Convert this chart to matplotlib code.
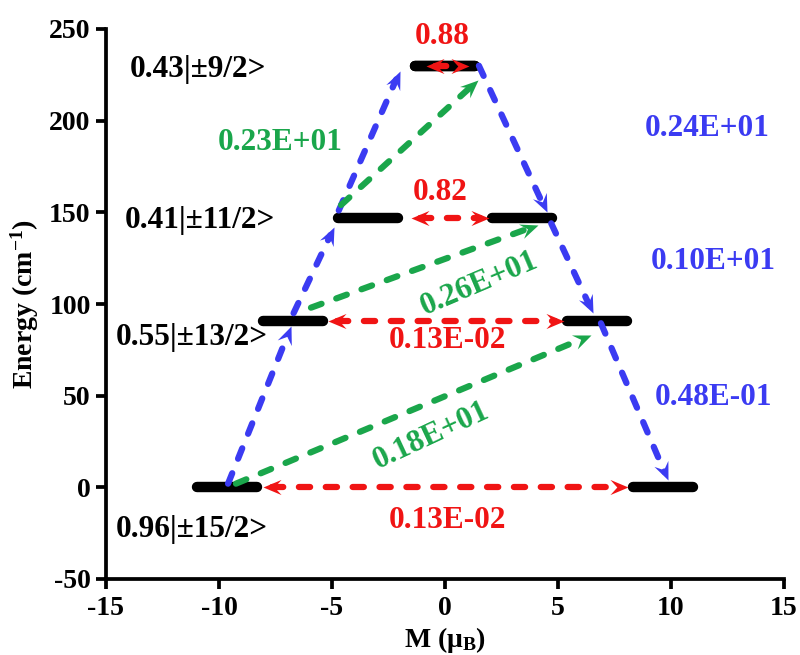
import matplotlib

matplotlib.use("Agg")
import matplotlib.pyplot as plt
import numpy as np
from matplotlib.markers import MarkerStyle
from matplotlib.path import Path
from matplotlib.transforms import Affine2D

plt.rcParams["font.family"] = ["Liberation Serif", "DejaVu Serif"]
plt.rcParams["font.weight"] = "bold"
plt.rcParams["axes.unicode_minus"] = False
plt.rcParams["mathtext.fontset"] = "custom"
plt.rcParams["mathtext.rm"] = "Liberation Serif:bold"
plt.rcParams["mathtext.it"] = "Liberation Serif:bold:italic"
plt.rcParams["mathtext.bf"] = "Liberation Serif:bold"

BLUE = "#3b3bf2"
GREEN = "#1aa64b"
RED = "#f01414"

# Kramers doublets: energy (cm-1) and |M| of the bar centres
level_energy = [0.0, 91.0, 147.0, 230.0]
level_m = [9.65, 6.73, 3.4, 0.0]
level_half = 1.33
level_labels = ["0.96|±15/2>", "0.55|±13/2>", "0.41|±11/2>", "0.43|±9/2>"]

# transitions: (x0, y0, x1, y1), arrow at (x1, y1)
blue_paths = [
    (-9.6, 2, -6.8, 88),
    (-6.7, 95, -4.9, 142),
    (-4.7, 151, -2.0, 227),
    (1.5, 230, 4.5, 150),
    (4.7, 144, 6.55, 95),
    (6.9, 89.5, 9.87, 3.8),
]
green_paths = [
    (-9.25, 2, 6.46, 83),
    (-5.93, 98, 4.1, 143),
    (-4.6, 154, 1.46, 222),
]
red_paths = [
    (-8.05, 0, 8.1, 0),
    (-5.18, 91, 5.27, 91),
    (-1.5, 147, 1.95, 147),
    (-0.84, 230, 1.06, 230),
]

red_values = ["0.13E-02", "0.13E-02", "0.82", "0.88"]
green_values = ["0.18E+01", "0.26E+01", "0.23E+01"]
blue_values = ["0.48E-01", "0.10E+01", "0.24E+01"]

HEAD = Path(
    [(0, 0), (-1, 0.42), (-0.62, 0), (-1, -0.42), (0, 0)],
    [Path.MOVETO, Path.LINETO, Path.LINETO, Path.LINETO, Path.CLOSEPOLY],
)
HEAD_MS = 26
BACKOFF_PX = 9


def draw_head(ax, tip, tail, color):
    p_tail = ax.transData.transform(tail)
    p_tip = ax.transData.transform(tip)
    ang = np.degrees(np.arctan2(p_tip[1] - p_tail[1], p_tip[0] - p_tail[0]))
    ax.plot(
        [tip[0]], [tip[1]],
        marker=MarkerStyle(HEAD, transform=Affine2D().rotate_deg(ang)),
        ms=HEAD_MS, color=color, mew=0, ls="none", zorder=5, clip_on=False,
    )


def pulled_back(ax, tip, tail):
    p_tail = ax.transData.transform(tail)
    p_tip = ax.transData.transform(tip)
    u = (p_tip - p_tail) / np.hypot(*(p_tip - p_tail))
    return ax.transData.inverted().transform(p_tip - u * BACKOFF_PX)


def dashed_arrow(ax, x0, y0, x1, y1, color, both=False):
    start = np.array([x0, y0], dtype=float)
    end = np.array([x1, y1], dtype=float)
    a = pulled_back(ax, end, start)
    b = pulled_back(ax, start, end) if both else start
    ax.plot([b[0], a[0]], [b[1], a[1]], color=color, lw=4.5, ls=(0, (1.8, 2.5)),
            dash_capstyle="round", zorder=4)
    draw_head(ax, end, start, color)
    if both:
        draw_head(ax, start, end, color)


fig = plt.figure(figsize=(8, 6.55), dpi=100)
ax = fig.add_axes([106 / 800, 76 / 655, 678 / 800, 550 / 655])
ax.set_xlim(-15, 15)
ax.set_ylim(-50, 250)
ax.set_xticks(np.arange(-15, 16, 5))
ax.set_yticks(np.arange(-50, 251, 50))
for side in ("top", "right"):
    ax.spines[side].set_visible(False)
for side in ("left", "bottom"):
    ax.spines[side].set_linewidth(2.7)
ax.tick_params(direction="out", length=7, width=2.7, labelsize=20, pad=4)
ax.tick_params(axis="x", pad=5)
ax.set_xlabel("M (μ$_{\\mathrm{B}}$)", fontsize=20, fontweight="bold", labelpad=3)
ax.set_ylabel("Energy (cm$^{-1}$)", fontsize=20, fontweight="bold", labelpad=6)

for e, m in zip(level_energy, level_m):
    for s in (-1, 1):
        ax.plot([s * m - level_half, s * m + level_half], [e, e], color="black",
                lw=7.5, solid_capstyle="round", zorder=3)

for p in blue_paths:
    dashed_arrow(ax, *p, BLUE)
for p in green_paths:
    dashed_arrow(ax, *p, GREEN)
for p in red_paths:
    dashed_arrow(ax, *p, RED, both=True)

fs = 22.5
lab_xy = [(-14.56, -23), (-14.56, 82), (-14.16, 145.6), (-13.94, 228)]
for (x, y), s in zip(lab_xy, level_labels):
    ax.text(x, y, s, ha="left", va="center", fontsize=fs, color="black")

red_xy = [(0.1, -18), (0.1, 80), (-0.2, 161), (-0.13, 246)]
for (x, y), s in zip(red_xy, red_values):
    ax.text(x, y, s, ha="center", va="center", fontsize=fs, color=RED)

green_xy = [(-0.6, 28, 25), (1.5, 111, 23), (-7.3, 188, 0)]
for (x, y, r), s in zip(green_xy, green_values):
    ax.text(x, y, s, ha="center", va="center", fontsize=fs, color=GREEN,
            rotation=r, rotation_mode="anchor")

blue_xy = [(11.86, 49), (11.86, 123), (11.6, 196)]
for (x, y), s in zip(blue_xy, blue_values):
    ax.text(x, y, s, ha="center", va="center", fontsize=fs, color=BLUE)

fig.savefig("out.png", dpi=100)
